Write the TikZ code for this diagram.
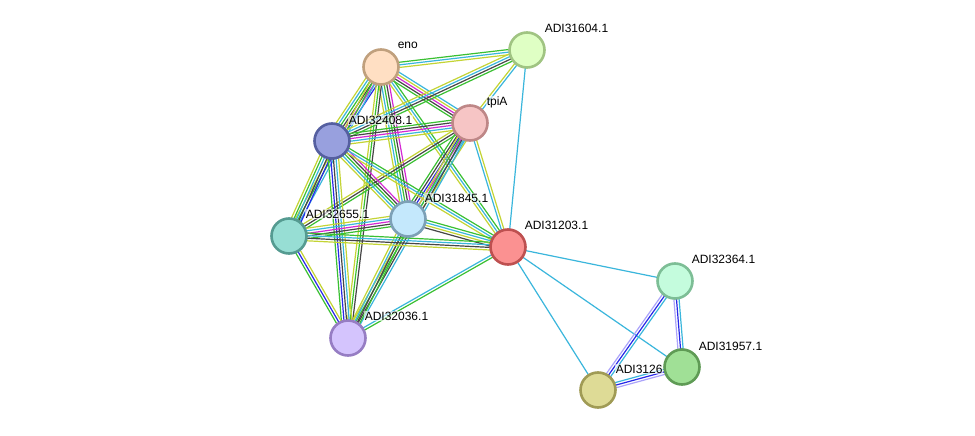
\documentclass[tikz,border=0pt]{standalone}
\usepackage{fontspec}
\setmainfont{Liberation Sans}
\usetikzlibrary{calc,backgrounds}
\definecolor{cyg}{RGB}{196,212,52}
\definecolor{ccy}{RGB}{58,182,220}
\definecolor{cgr}{RGB}{58,192,50}
\definecolor{cbk}{RGB}{70,70,70}
\definecolor{cmg}{RGB}{212,40,212}
\definecolor{cbl}{RGB}{40,40,232}
\definecolor{clp}{RGB}{172,164,250}
\definecolor{fE}{RGB}{255,223,195}\definecolor{bE}{RGB}{192,160,125}
\definecolor{fP}{RGB}{223,255,196}\definecolor{bP}{RGB}{160,196,130}
\definecolor{fT}{RGB}{246,197,197}\definecolor{bT}{RGB}{190,135,135}
\definecolor{fA}{RGB}{152,160,222}\definecolor{bA}{RGB}{85,95,160}
\definecolor{fC}{RGB}{196,232,252}\definecolor{bC}{RGB}{125,160,182}
\definecolor{fS}{RGB}{151,222,212}\definecolor{bS}{RGB}{85,155,145}
\definecolor{fR}{RGB}{251,145,145}\definecolor{bR}{RGB}{190,80,80}
\definecolor{fD}{RGB}{212,196,253}\definecolor{bD}{RGB}{150,125,195}
\definecolor{fQ}{RGB}{196,252,221}\definecolor{bQ}{RGB}{125,190,150}
\definecolor{fF}{RGB}{222,219,150}\definecolor{bF}{RGB}{160,155,85}
\definecolor{fG}{RGB}{160,224,150}\definecolor{bG}{RGB}{95,155,85}
\newcommand\sedge[3]{%
  \foreach \cc [count=\ii] in {#3}{\xdef\nn{\ii}}%
  \foreach \cc [count=\ii] in {#3}{%
    \pgfmathsetmacro\off{(\ii-(\nn+1)/2)*2.6}%
    \draw[\cc, line width=1.2pt] ($(#1)!\off pt!90:(#2)$) -- ($(#2)!\off pt!-90:(#1)$);
  }}
\tikzset{
  prot/.style={circle, minimum size=35pt, inner sep=0pt, line width=2.6pt, fill=f#1, draw=b#1},
  lbl/.style={anchor=west, font=\fontsize{12}{14}\selectfont, inner sep=0.6pt, fill=white, fill opacity=0.6, text opacity=1}
}
\begin{document}
\begin{tikzpicture}[x=1pt,y=-1pt]
\useasboundingbox (0,0) rectangle (975,436);
% nodes
\node[prot=E] (E) at (381,67) {};
\node[lbl] (lE) at (397,45) {eno};
\node[prot=P] (P) at (527,50) {};
\node[lbl] (lP) at (544,28) {ADI31604.1};
\node[prot=T] (T) at (470,123) {};
\node[lbl] (lT) at (486,102) {tpiA};
\node[prot=A] (A) at (332,141) {};
\node[lbl] (lA) at (348,120) {ADI32408.1};
\node[prot=C] (C) at (408,219) {};
\node[lbl] (lC) at (424,198) {ADI31845.1};
\node[prot=S] (S) at (289,236) {};
\node[lbl] (lS) at (305,214) {ADI32655.1};
\node[prot=R] (R) at (508,247) {};
\node[lbl] (lR) at (524,225) {ADI31203.1};
\node[prot=D] (D) at (348,338) {};
\node[lbl] (lD) at (364,316) {ADI32036.1};
\node[prot=Q] (Q) at (675,281) {};
\node[lbl] (lQ) at (691,259) {ADI32364.1};
\node[prot=F] (F) at (598,390) {};
\node[lbl] (lF) at (615,369) {ADI3126};
\node[prot=G] (G) at (682,367) {};
\node[lbl] (lG) at (698,346) {ADI31957.1};
\begin{scope}[on background layer]
\fill[white] (0,0) rectangle (975,436);
\sedge{E}{P}{cyg,ccy,cgr}
\sedge{E}{T}{cgr,cbk,cmg,cyg,ccy}
\sedge{E}{A}{cyg,ccy,cgr,cbk,cmg,cbl}
\sedge{E}{C}{cyg,ccy,cgr,cbk,cmg}
\sedge{E}{S}{cyg,cgr,ccy}
\sedge{E}{R}{cyg,ccy,cgr}
\sedge{E}{D}{cyg,cgr,cbk}
\sedge{P}{A}{cyg,ccy,cbk,cgr}
\sedge{P}{T}{cyg,ccy}
\sedge{P}{R}{ccy}
\sedge{T}{A}{cgr,cbk,cmg,ccy,cyg}
\sedge{T}{C}{cgr,cbk,cbl,cmg,ccy,cyg}
\sedge{T}{S}{cyg,cbk,cgr}
\sedge{T}{R}{ccy,cyg}
\sedge{T}{D}{cyg,cgr,cbk,ccy}
\sedge{A}{C}{cyg,ccy,cgr,cbk,cmg}
\sedge{A}{S}{cyg,cgr,ccy,cbk,cbl}
\sedge{A}{R}{cyg,ccy,cgr}
\sedge{A}{D}{cgr,cbl,cbk,ccy,cyg}
\sedge{C}{S}{cyg,ccy,cmg,cbk,cgr}
\sedge{C}{R}{cbk,cyg,ccy,cgr}
\sedge{C}{D}{cyg,ccy,cbk,cgr}
\sedge{S}{R}{cyg,cbk,ccy,cgr}
\sedge{S}{D}{cgr,cbl,cyg}
\sedge{R}{D}{ccy,cgr}
\sedge{R}{Q}{ccy}
\sedge{R}{G}{ccy}
\sedge{R}{F}{ccy}
\sedge{Q}{G}{clp,cbl,ccy}
\sedge{Q}{F}{clp,cbl,ccy}
\sedge{F}{G}{clp,cbl,ccy}
\end{scope}
\end{tikzpicture}
\end{document}
